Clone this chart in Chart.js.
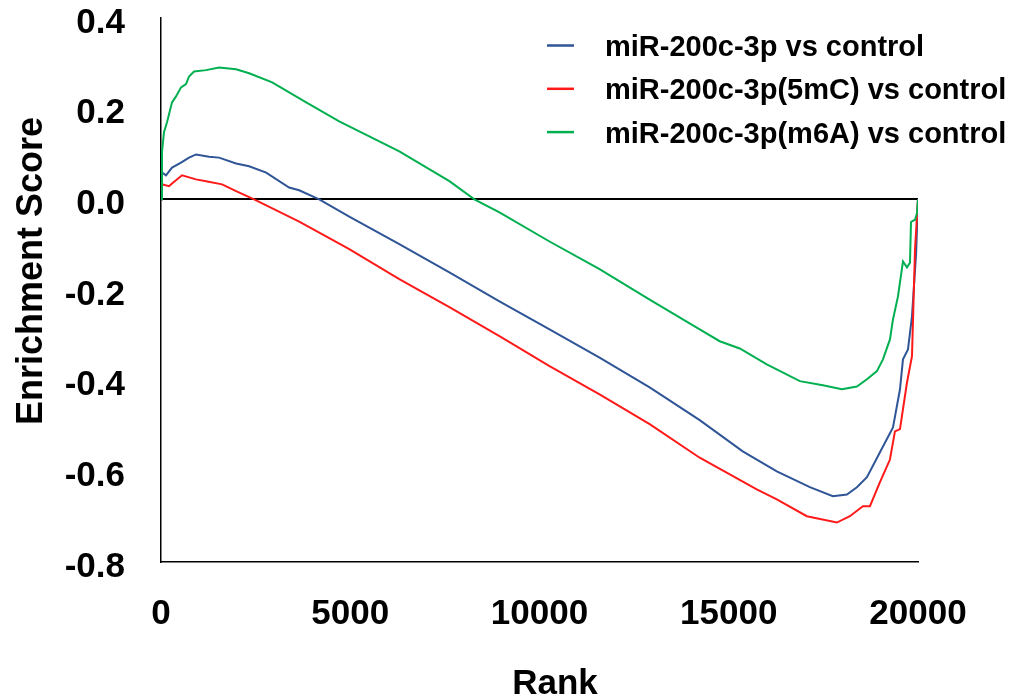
<!DOCTYPE html>
<html>
<head>
<meta charset="utf-8">
<title>Enrichment Score by Rank</title>
<script src="https://cdn.jsdelivr.net/npm/chart.js@4"></script>
<style>
  html, body { margin: 0; padding: 0; background: #ffffff; }
  #wrap { width: 1013px; height: 700px; position: relative; }
</style>
</head>
<body>
<div id="wrap"><canvas id="es"></canvas></div>
<script>
// Running enrichment score curves, one per comparison
const seriesNames = [
  'miR-200c-3p vs control',
  'miR-200c-3p(5mC) vs control',
  'miR-200c-3p(m6A) vs control'
];
const seriesColors = ['#2F5597', '#FF1A1A', '#00B050'];

const rankBlue = [0, 13, 132, 291, 529, 741, 926, 1270, 1534, 1984, 2328, 2778, 3386, 3651, 4180, 4974, 6296, 7619, 8942, 10265, 11587, 12910, 14233, 15370, 16270, 17143, 17751, 18122, 18386, 18651, 18995, 19339, 19524, 19603, 19735, 19841, 19950, 20000];
const scoreBlue = [0, 0.060, 0.053, 0.070, 0.081, 0.092, 0.099, 0.094, 0.092, 0.079, 0.073, 0.059, 0.026, 0.020, 0.000, -0.038, -0.099, -0.161, -0.225, -0.287, -0.349, -0.415, -0.487, -0.556, -0.600, -0.635, -0.655, -0.651, -0.635, -0.613, -0.558, -0.503, -0.419, -0.353, -0.331, -0.258, -0.120, 0];

const rankRed = [0, 26, 212, 291, 556, 926, 1190, 1614, 1984, 2460, 3651, 4974, 6296, 7619, 8942, 10265, 11587, 12910, 14233, 15740, 16270, 17063, 17857, 18200, 18545, 18730, 18995, 19259, 19391, 19524, 19709, 19841, 19921, 20000];
const scoreRed = [0, 0.033, 0.029, 0.035, 0.053, 0.044, 0.040, 0.033, 0.018, 0.000, -0.049, -0.110, -0.176, -0.238, -0.302, -0.368, -0.430, -0.496, -0.570, -0.640, -0.662, -0.699, -0.713, -0.699, -0.677, -0.677, -0.624, -0.574, -0.512, -0.507, -0.404, -0.346, -0.110, 0];

const rankGreen = [0, 26, 79, 159, 291, 397, 529, 661, 741, 873, 1190, 1534, 1984, 2328, 2937, 3836, 4709, 6296, 7619, 8280, 8942, 10265, 11587, 12910, 14233, 14762, 15291, 16005, 16878, 17487, 17989, 18386, 18651, 18915, 19074, 19259, 19339, 19471, 19603, 19709, 19788, 19815, 19921, 19974, 20000];
const scoreGreen = [0, 0.104, 0.148, 0.170, 0.214, 0.227, 0.247, 0.254, 0.271, 0.282, 0.285, 0.291, 0.287, 0.278, 0.258, 0.214, 0.172, 0.106, 0.040, 0.000, -0.029, -0.093, -0.154, -0.221, -0.287, -0.313, -0.329, -0.364, -0.401, -0.410, -0.419, -0.413, -0.397, -0.379, -0.353, -0.309, -0.265, -0.214, -0.137, -0.150, -0.140, -0.050, -0.045, -0.030, 0];

const xTicks = [0, 5000, 10000, 15000, 20000];
const yTicks = [-0.8, -0.6, -0.4, -0.2, 0.0, 0.2, 0.4];

const FONT = '"Liberation Sans", Arial, Helvetica, sans-serif';

function points(xs, ys) {
  return xs.map((x, i) => ({ x: x, y: ys[i] }));
}

// Legend drawn as a plain key inside the plot, top right
const keyPlugin = {
  id: 'seriesKey',
  afterDraw(chart) {
    const ctx = chart.ctx;
    ctx.save();
    ctx.font = 'bold 29px ' + FONT;
    ctx.textAlign = 'left';
    ctx.textBaseline = 'alphabetic';
    chart.data.datasets.forEach((ds, i) => {
      const y = 45.5 + i * 43.3;
      ctx.strokeStyle = ds.borderColor;
      ctx.lineWidth = 2.5;
      ctx.beginPath();
      ctx.moveTo(547, y);
      ctx.lineTo(574, y);
      ctx.stroke();
      ctx.fillStyle = '#000000';
      ctx.fillText(ds.label, 605, y + 10.5);
    });
    ctx.restore();
  }
};

// Axis titles
const titlePlugin = {
  id: 'axisTitles',
  afterDraw(chart) {
    const ctx = chart.ctx;
    ctx.save();
    ctx.fillStyle = '#000000';
    ctx.font = 'bold 35px ' + FONT;
    ctx.textAlign = 'center';
    ctx.textBaseline = 'alphabetic';
    ctx.fillText('Rank', 555, 694);
    ctx.translate(42, 271);
    ctx.rotate(-Math.PI / 2);
    ctx.font = 'bold 36px ' + FONT;
    ctx.fillText('Enrichment Score', 0, 0);
    ctx.restore();
  }
};

const datasets = [
  { label: seriesNames[0], data: points(rankBlue, scoreBlue), borderColor: seriesColors[0], order: 3 },
  { label: seriesNames[1], data: points(rankRed, scoreRed), borderColor: seriesColors[1], order: 2 },
  { label: seriesNames[2], data: points(rankGreen, scoreGreen), borderColor: seriesColors[2], order: 1 }
].map(d => Object.assign(d, {
  borderWidth: 2,
  pointRadius: 0,
  tension: 0,
  fill: false
}));

new Chart(document.getElementById('es'), {
  type: 'line',
  data: { datasets: datasets },
  options: {
    responsive: true,
    maintainAspectRatio: false,
    animation: false,
    layout: { padding: { top: 18, right: 95, left: 0, bottom: 0 } },
    plugins: {
      legend: { display: false },
      tooltip: { enabled: false }
    },
    scales: {
      x: {
        type: 'linear',
        min: 0,
        max: 20000,
        afterBuildTicks(scale) { scale.ticks = xTicks.map(v => ({ value: v })); },
        afterFit(scale) { scale.height = 138; },
        grid: { display: false, drawTicks: false },
        border: { display: true, color: '#000000', width: 1.5 },
        ticks: {
          padding: 35,
          color: '#000000',
          font: { family: FONT, size: 35, weight: 'bold', lineHeight: 1 },
          maxRotation: 0,
          callback: v => String(v)
        }
      },
      y: {
        type: 'linear',
        min: -0.8,
        max: 0.4,
        afterBuildTicks(scale) { scale.ticks = yTicks.map(v => ({ value: v })); },
        afterFit(scale) {
          scale.width = 161;
          scale.paddingTop = 0;
          scale.paddingBottom = 0;
        },
        grid: {
          drawTicks: false,
          color: c => (c.tick && Math.abs(c.tick.value) < 1e-9) ? '#000000' : 'rgba(0,0,0,0)',
          lineWidth: 2
        },
        border: { display: true, color: '#000000', width: 1.5 },
        ticks: {
          padding: 36,
          labelOffset: 5,
          color: '#000000',
          font: { family: FONT, size: 35, weight: 'bold', lineHeight: 1 },
          callback: v => (Math.abs(v) < 1e-9 ? 0 : v).toFixed(1)
        }
      }
    }
  },
  plugins: [keyPlugin, titlePlugin]
});
</script>
</body>
</html>
